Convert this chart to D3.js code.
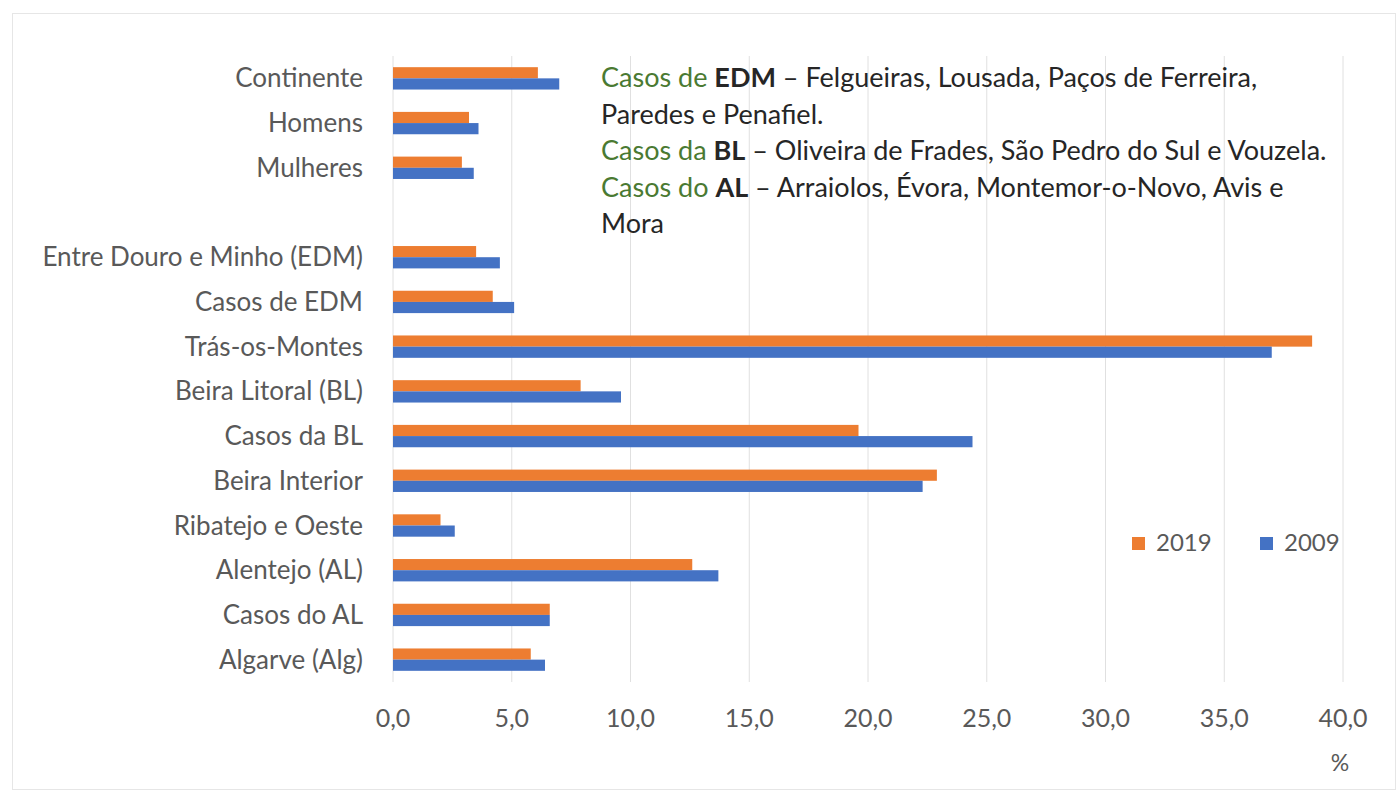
<!DOCTYPE html>
<html>
<head>
<meta charset="utf-8">
<script src="https://cdn.jsdelivr.net/npm/d3@7"></script>
<style>
  body { margin: 0; background: #fff; }
  text { font-family: Lato, "Open Sans", sans-serif; }
</style>
</head>
<body>
<div id="chart"></div>
<script>
// categories, top to bottom ("" is the empty row between Mulheres and EDM)
const categories = ["Continente", "Homens", "Mulheres", "", "Entre Douro e Minho (EDM)",
  "Casos de EDM", "Trás-os-Montes", "Beira Litoral (BL)", "Casos da BL", "Beira Interior",
  "Ribatejo e Oeste", "Alentejo (AL)", "Casos do AL", "Algarve (Alg)"];
const series = ["2019", "2009"];
const values2019 = [6.1, 3.2, 2.9, null, 3.5, 4.2, 38.7, 7.9, 19.6, 22.9, 2.0, 12.6, 6.6, 5.8];
const values2009 = [7.0, 3.6, 3.4, null, 4.5, 5.1, 37.0, 9.6, 24.4, 22.3, 2.6, 13.7, 6.6, 6.4];
const xTicks = [0, 5, 10, 15, 20, 25, 30, 35, 40];
const colors = {"2019": "#ED7D31", "2009": "#4472C4"};

const noteLines = [
  [["Casos de ", "g"], ["EDM", "b"], [" – Felgueiras, Lousada, Paços de Ferreira,", "t"]],
  [["Paredes e Penafiel.", "t"]],
  [["Casos da ", "g"], ["BL", "b"], [" – Oliveira de Frades, São Pedro do Sul e Vouzela.", "t"]],
  [["Casos do ", "g"], ["AL", "b"], [" – Arraiolos, Évora, Montemor-o-Novo, Avis e", "t"]],
  [["Mora", "t"]]
];

const width = 1398, height = 795;
const margin = {top: 56, left: 393, right: 55, bottom: 113};

const svg = d3.select("#chart").append("svg")
  .attr("width", width)
  .attr("height", height);

// chart frame
svg.append("rect")
  .attr("x", 12.5).attr("y", 13.5)
  .attr("width", 1383).attr("height", 776)
  .attr("fill", "#fff")
  .attr("stroke", "#e6e6e6");

const x = d3.scaleLinear()
  .domain([0, 40])
  .range([margin.left, width - margin.right]);

const y = d3.scaleBand()
  .domain(categories.map((c, i) => i))
  .range([margin.top, height - margin.bottom])
  .paddingInner(0.5)
  .paddingOuter(0.25);

const ySub = d3.scaleBand()
  .domain(series)
  .range([0, y.bandwidth()]);

// gridlines
svg.append("g")
  .selectAll("line")
  .data(xTicks)
  .join("line")
  .attr("x1", d => x(d)).attr("x2", d => x(d))
  .attr("y1", margin.top).attr("y2", height - margin.bottom)
  .attr("stroke", "#e0e0e0")
  .attr("stroke-width", 1);

// bars
const rows = categories.map((c, i) => ({i: i, "2019": values2019[i], "2009": values2009[i]}));
const groups = svg.append("g")
  .selectAll("g")
  .data(rows.filter(r => r["2019"] != null))
  .join("g")
  .attr("transform", d => `translate(0,${y(d.i)})`);

groups.selectAll("rect")
  .data(d => series.map(s => ({s: s, v: d[s]})))
  .join("rect")
  .attr("x", x(0))
  .attr("y", d => ySub(d.s))
  .attr("width", d => x(d.v) - x(0))
  .attr("height", ySub.bandwidth())
  .attr("fill", d => colors[d.s]);

// category labels
svg.append("g")
  .selectAll("text")
  .data(categories.map((c, i) => ({c: c, i: i})).filter(d => d.c !== ""))
  .join("text")
  .attr("x", x(0) - 30)
  .attr("y", d => y(d.i) + y.bandwidth() / 2)
  .attr("dy", "0.35em")
  .attr("text-anchor", "end")
  .attr("font-size", 26)
  .attr("fill", "#595959")
  .text(d => d.c);

// x axis labels
const fmt = d3.formatLocale({decimal: ",", thousands: ".", grouping: [3], currency: ["", "€"]}).format(".1f");
svg.append("g")
  .selectAll("text")
  .data(xTicks)
  .join("text")
  .attr("x", d => x(d))
  .attr("y", 718)
  .attr("dy", "0.35em")
  .attr("text-anchor", "middle")
  .attr("font-size", 25)
  .attr("fill", "#595959")
  .text(d => fmt(d));

svg.append("text")
  .attr("x", x(40) - 3)
  .attr("y", 763)
  .attr("dy", "0.35em")
  .attr("text-anchor", "middle")
  .attr("font-size", 23)
  .attr("fill", "#595959")
  .text("%");

// legend
const legend = svg.append("g")
  .selectAll("g")
  .data(series)
  .join("g")
  .attr("transform", (d, i) => `translate(${1132 + i * 128},543)`);
legend.append("rect")
  .attr("x", 0).attr("y", -6)
  .attr("width", 13).attr("height", 13)
  .attr("fill", d => colors[d]);
legend.append("text")
  .attr("x", 24)
  .attr("dy", "0.35em")
  .attr("font-size", 24)
  .attr("fill", "#595959")
  .text(d => d);

// annotation
const note = svg.append("text")
  .attr("x", 601)
  .attr("y", 78)
  .attr("font-size", 27);
noteLines.forEach((line, li) => {
  line.forEach((part, pi) => {
    const t = note.append("tspan")
      .attr("fill", part[1] === "g" ? "#4a7a32" : "#262626")
      .attr("font-weight", part[1] === "b" ? "bold" : "normal")
      .text(part[0]);
    if (pi === 0) t.attr("x", 601).attr("y", 78 + li * 36.5).attr("dy", "0.35em");
  });
});
</script>
</body>
</html>
